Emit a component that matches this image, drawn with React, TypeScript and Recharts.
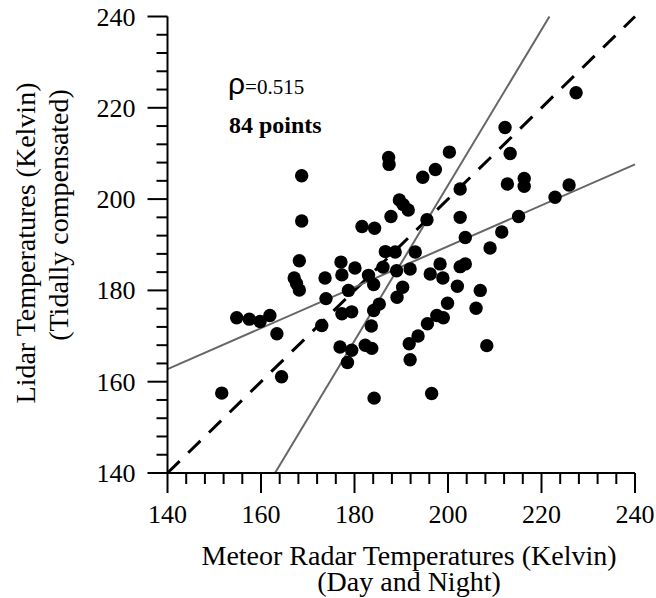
import React from 'react';
import { ScatterChart, Scatter, XAxis, YAxis, ReferenceLine, Label } from 'recharts';

// meteor radar (x) vs lidar (y) temperatures
const radarTemps = [
  168.7, 168.7, 168.2, 167.1, 168.2, 154.8, 157.5, 159.8, 161.9, 163.4,
  164.4, 151.6, 187.3, 187.4, 194.6, 189.6, 191.5, 187.8, 181.6, 184.3,
  186.6, 188.7, 193.0, 177.1, 180.1, 173.7, 177.3, 183.0, 184.1, 186.1,
  191.9, 178.7, 173.9, 190.3, 189.1, 173.0, 177.3, 179.4, 184.1, 183.6,
  176.9, 179.4, 178.5, 182.3, 183.7, 193.6, 191.9, 184.2, 200.3, 197.3,
  213.3, 212.7, 216.3, 216.3, 202.6, 202.6, 195.5, 222.9, 215.1, 211.5,
  209.0, 203.7, 198.3, 202.6, 203.7, 196.2, 198.9, 202.0, 206.9, 206.0,
  199.9, 197.6, 199.0, 195.6, 191.7, 208.3, 196.5, 212.2, 227.4, 225.9,
  185.3, 189.0, 190.4, 167.6,
];
const lidarTemps = [
  205.1, 195.2, 186.5, 182.7, 180.1, 174.0, 173.7, 173.2, 174.5, 170.5,
  161.1, 157.5, 209.1, 207.6, 204.8, 199.8, 197.6, 196.2, 194.0, 193.6,
  188.5, 188.4, 188.4, 186.2, 184.9, 182.7, 183.4, 183.3, 181.3, 185.1,
  184.7, 180.0, 178.2, 180.7, 178.5, 172.3, 174.9, 175.3, 175.6, 172.2,
  167.6, 166.9, 164.2, 168.0, 167.3, 170.0, 164.8, 156.4, 210.3, 206.5,
  210.0, 203.3, 204.5, 202.8, 202.2, 196.0, 195.5, 200.4, 196.2, 192.8,
  189.3, 191.6, 185.8, 185.2, 185.8, 183.6, 182.7, 180.9, 180.0, 176.1,
  177.2, 174.5, 174.0, 172.7, 168.3, 167.9, 157.4, 215.7, 223.3, 203.1,
  177.0, 184.3, 198.8, 181.5,
];

const axisTicks = [
  140, 144, 148, 152, 156, 160, 164, 168, 172, 176, 180, 184, 188,
  192, 196, 200, 204, 208, 212, 216, 220, 224, 228, 232, 236, 240,
];
const majorTicks = [140, 160, 180, 200, 220, 240];

// line endpoints
const oneToOne = [{ x: 140, y: 140 }, { x: 240, y: 240 }];
const fitShallow = [{ x: 140, y: 162.75 }, { x: 240, y: 207.6 }];
const fitSteep = [{ x: 163, y: 140 }, { x: 221.7, y: 240 }];

const rhoValue = '=0.515';
const pointCount = '84 points';

const serif = '"Liberation Serif", "Times New Roman", serif';

const points = radarTemps.map((x, i) => ({ x, y: lidarTemps[i] }));

const XTick = (props: any) => {
  const { x, y, payload } = props;
  const major = majorTicks.includes(payload.value);
  return (
    <g>
      <line x1={x} y1={y} x2={x} y2={y + (major ? 20 : 11)} stroke="#000" strokeWidth={2} />
      {major && (
        <text x={x} y={y + 50} textAnchor="middle" fontSize={26} fontFamily={serif} fill="#000">
          {payload.value}
        </text>
      )}
    </g>
  );
};

const YTick = (props: any) => {
  const { x, y, payload } = props;
  const major = majorTicks.includes(payload.value);
  return (
    <g>
      <line x1={x} y1={y} x2={x - (major ? 20 : 11)} y2={y} stroke="#000" strokeWidth={2} />
      {major && (
        <text x={x - 32} y={y + 9} textAnchor="end" fontSize={26} fontFamily={serif} fill="#000">
          {payload.value}
        </text>
      )}
    </g>
  );
};

const XTitle = () => (
  <g fontFamily={serif} fontSize={28} fill="#000">
    <text x={409} y={565} textAnchor="middle">Meteor Radar Temperatures (Kelvin)</text>
    <text x={409} y={591} textAnchor="middle">(Day and Night)</text>
  </g>
);

const YTitle = () => (
  <g fontFamily={serif} fontSize={28} fill="#000">
    <text x={35} y={243} textAnchor="middle" transform="rotate(-90, 35, 243)">
      Lidar Temperatures (Kelvin)
    </text>
    <text x={68} y={215} textAnchor="middle" transform="rotate(-90, 68, 215)">
      (Tidally compensated)
    </text>
    <text x={228} y={94} fill="#000">
      <tspan fontFamily='"Liberation Sans", Arial, sans-serif' fontSize={30}>ρ</tspan>
      <tspan fontFamily={serif} fontSize={21}>{rhoValue}</tspan>
    </text>
    <text x={229} y={133} fontFamily={serif} fontSize={24} fontWeight="bold">
      {pointCount}
    </text>
  </g>
);

const Dot = (props: any) => <circle cx={props.cx} cy={props.cy} r={6.7} fill="#000" />;

export default function App() {
  return (
    <div style={{ position: 'absolute', left: 0, top: 0 }}>
      <ScatterChart
        width={656}
        height={598}
        margin={{ top: 16.5, right: 21, left: 0, bottom: 0 }}
      >
        <XAxis
          type="number"
          dataKey="x"
          domain={[140, 240]}
          ticks={axisTicks}
          interval={0}
          height={125}
          tickSize={0}
          tickMargin={0}
          tickLine={false}
          tick={(p: any) => <XTick {...p} />}
          axisLine={{ stroke: '#000', strokeWidth: 2 }}
        >
          <Label content={() => <XTitle />} />
        </XAxis>
        <YAxis
          type="number"
          dataKey="y"
          domain={[140, 240]}
          ticks={axisTicks}
          interval={0}
          width={167.5}
          tickSize={0}
          tickMargin={0}
          tickLine={false}
          tick={(p: any) => <YTick {...p} />}
          axisLine={{ stroke: '#000', strokeWidth: 2 }}
        >
          <Label content={() => <YTitle />} />
        </YAxis>
        <Scatter data={points} shape={Dot} isAnimationActive={false} />
        <ReferenceLine segment={oneToOne} stroke="#000" strokeWidth={3} strokeDasharray="17 12" />
        <ReferenceLine segment={fitShallow} stroke="#666" strokeWidth={2} />
        <ReferenceLine segment={fitSteep} stroke="#666" strokeWidth={2} />
      </ScatterChart>
    </div>
  );
}
